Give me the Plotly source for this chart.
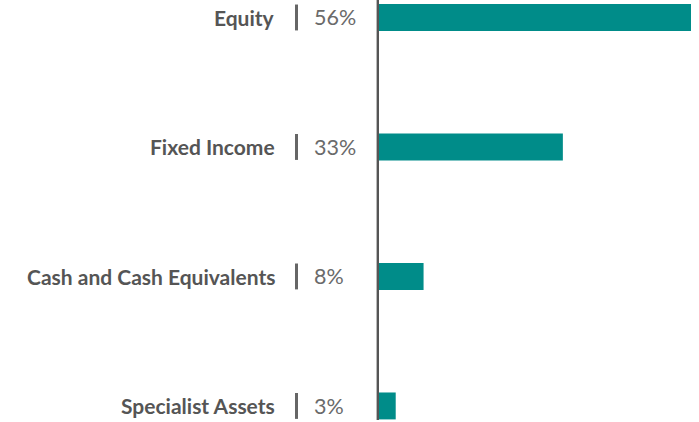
import plotly.graph_objects as go

categories = ["Equity", "Fixed Income", "Cash and Cash Equivalents", "Specialist Assets"]
values = [56, 33, 8, 3]
value_labels = ["56%", "33%", "8%", "3%"]

W, H = 699, 422
L, R = 379, 8
PW = W - L - R

def px(xpix):
    return (xpix - L) / PW

fig = go.Figure(go.Bar(
    x=values, y=categories, orientation="h",
    marker=dict(color="#008C89", line=dict(width=0)),
    width=0.208, hoverinfo="skip",
))

annotations = []
shapes = []
for cat, lab in zip(categories, value_labels):
    annotations.append(dict(x=px(277), y=cat, xref="paper", yref="y", text="<b>" + cat + "</b>",
                            xanchor="right", yanchor="middle", showarrow=False,
                            font=dict(family="Lato", size=21, color="#555555")))
    annotations.append(dict(x=px(312), y=cat, xref="paper", yref="y", text=lab,
                            xanchor="left", yanchor="middle", showarrow=False,
                            font=dict(family="Lato", size=21.5, color="#6a6a6a")))

for i in range(len(categories)):
    shapes.append(dict(type="line", xref="paper", yref="y", x0=px(296.5), x1=px(296.5),
                       y0=i - 0.1, y1=i + 0.1, line=dict(color="#666666", width=3)))

shapes.append(dict(type="line", xref="paper", yref="paper", x0=px(377.8), x1=px(377.8),
                   y0=0.005, y1=1, line=dict(color="#555555", width=2.4)))

fig.update_layout(
    width=W, height=H,
    margin=dict(l=L, r=R, t=0, b=0, pad=0),
    plot_bgcolor="white", paper_bgcolor="white",
    showlegend=False,
    xaxis=dict(range=[0, 56], visible=False, fixedrange=True),
    yaxis=dict(type="category", categoryorder="array", categoryarray=categories,
               range=[3.124, -0.135], visible=False, fixedrange=True),
    annotations=annotations, shapes=shapes,
)

fig.write_html("out.html", config={"displayModeBar": False},
               post_script="document.body.style.margin='0';document.body.style.overflow='hidden';")
